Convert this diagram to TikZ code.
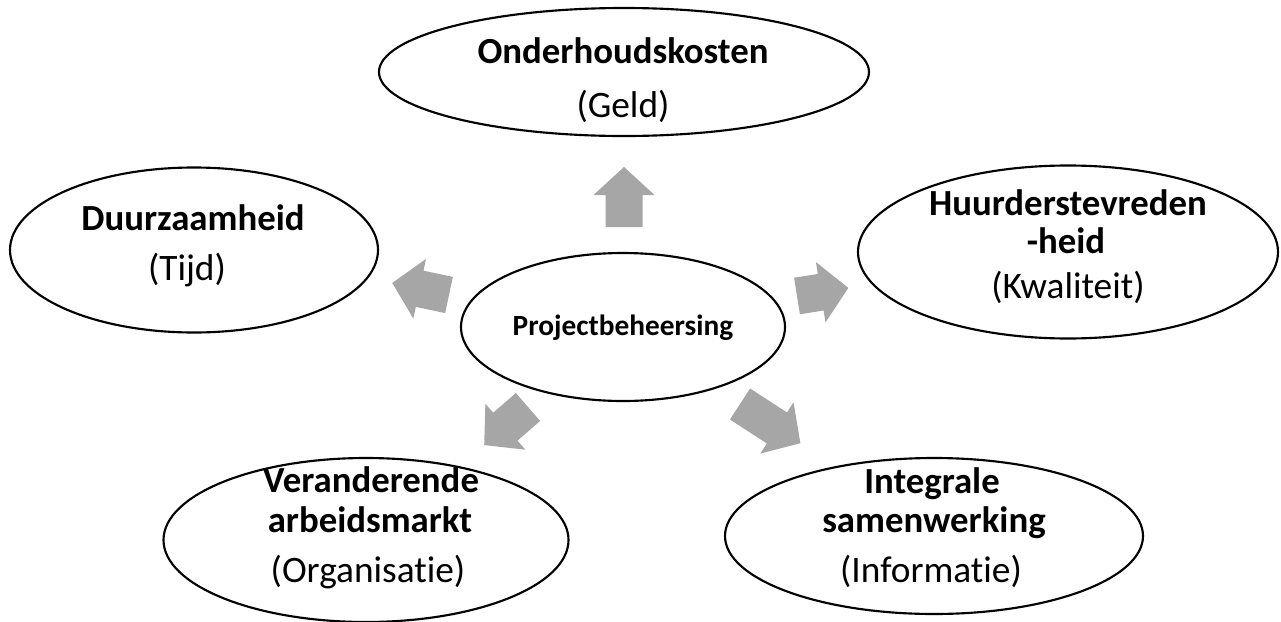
\documentclass[tikz,border=0pt]{standalone}
\usepackage{fontspec}
\setmainfont{Carlito}[Ligatures=NoCommon]
\usetikzlibrary{shapes.geometric}
\definecolor{arrowgray}{HTML}{A6A6A6}
\tikzset{
  oval/.style={ellipse, draw=black, line width=1.6pt, fill=white, inner sep=0pt},
  headtxt/.style={font=\fontsize{27.6}{32}\selectfont\bfseries, anchor=base, inner sep=0pt},
  subtxt/.style={font=\fontsize{28}{32}\selectfont, anchor=base, inner sep=0pt},
  coretxt/.style={font=\fontsize{22}{26}\selectfont\bfseries, anchor=base, inner sep=0pt},
  pics/blockarrow/.style={code={
    \fill[arrowgray] (0,-18.5) -- (#1-28,-18.5) -- (#1-28,-30.5) -- (#1,0)
      -- (#1-28,30.5) -- (#1-28,18.5) -- (0,18.5) -- cycle;}}
}
\begin{document}
\begin{tikzpicture}[x=0.75pt, y=-0.75pt]
\useasboundingbox (0,0) rectangle (1281,621);
\fill[white] (0,0) rectangle (1281,621);

% central ellipse
\node[oval, minimum width=324*0.75pt, minimum height=148*0.75pt] (core) at (623,327) {};
\node[coretxt] (coreT) at (623,335) {Projectbeheersing};

% surrounding ellipses
\node[oval, minimum width=490*0.75pt, minimum height=128*0.75pt] (geld) at (624,72) {};
\node[oval, minimum width=368*0.75pt, minimum height=165*0.75pt] (tijd) at (194,250) {};
\node[oval, minimum width=420*0.75pt, minimum height=173*0.75pt] (kwal) at (1068,252) {};
\node[oval, minimum width=405*0.75pt, minimum height=164*0.75pt] (org) at (366,540) {};
\node[oval, minimum width=418*0.75pt, minimum height=156*0.75pt] (info) at (934,536) {};

% labels
\node[headtxt] (geldA) at (623,63) {Onderhoudskosten};
\node[subtxt]  (geldB) at (623,117) {(Geld)};
\node[headtxt] (tijdA) at (193,230) {Duurzaamheid};
\node[subtxt]  (tijdB) at (187,280) {(Tijd)};
\node[headtxt] (kwalA) at (1068,215) {Huurderstevreden};
\node[headtxt] (kwalB) at (1066,253) {-heid};
\node[subtxt]  (kwalC) at (1068,298) {(Kwaliteit)};
\node[headtxt] (orgA) at (371,492) {Veranderende};
\node[headtxt] (orgB) at (370,532) {arbeidsmarkt};
\node[subtxt]  (orgC) at (368,582) {(Organisatie)};
\node[headtxt] (infoA) at (932,493) {Integrale};
\node[headtxt] (infoB) at (934,532) {samenwerking};
\node[subtxt]  (infoC) at (931,582) {(Informatie)};

% block arrows radiating from the core
\pic[rotate=90]  (arUp) at (624,227) {blockarrow=60};
\pic[rotate=168] (arL)  at (449,295) {blockarrow=58};
\pic[rotate=9]   (arR)  at (797,296) {blockarrow=52};
\pic[rotate=221] (arBL) at (528,407) {blockarrow=58};
\pic[rotate=-33] (arBR) at (740,404) {blockarrow=72};
\end{tikzpicture}
\end{document}
